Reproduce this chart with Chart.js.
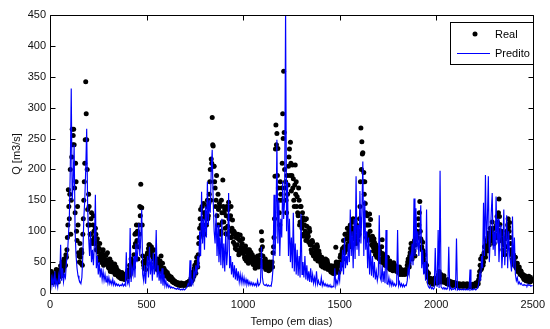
<!DOCTYPE html>
<html>
<head>
<meta charset="utf-8">
<script src="https://cdn.jsdelivr.net/npm/chart.js@4.4.1/dist/chart.umd.min.js"></script>
<style>
  html, body { margin: 0; padding: 0; background: #fff; }
  #c { display: block; }
</style>
</head>
<body>
<canvas id="c" width="550" height="329"></canvas>
<script>
// ---- data ----
const seriesNames = ["Real", "Predito"];
const sampleStep = 5;          // days between samples
const halfStep = 2.5;          // offset of the second set of observed values
const xTicks = [0, 500, 1000, 1500, 2000, 2500];
const yTicks = [0, 50, 100, 150, 200, 250, 300, 350, 400, 450];

// observed flow, days 0, 5, 10, ... 2500
const realVals = [
  25,31,20,27,18,29,23,33,21,26,
  34,44,30,48,40,52,45,58,90,167,
  120,200,150,265,255,240,130,180,85,110,
  60,80,48,65,95,150,210,342,248,135,
  160,110,95,130,80,125,90,105,70,88,
  66,72,52,63,49,70,58,47,61,54,
  48,40,55,38,45,34,42,47,36,33,
  30,33,25,29,23,31,27,22,30,26,
  32,26,38,30,55,40,48,62,95,97,
  85,55,110,140,176,138,60,45,52,38,
  55,65,72,78,62,75,68,55,60,42,
  48,38,45,35,52,60,38,32,40,28,
  32,27,30,23,26,21,24,18,20,16,
  17,14,16,13,15,12,16,14,15,13,
  15,13,17,14,19,15,24,20,30,27,
  45,32,58,42,80,105,135,95,120,145,
  95,125,110,150,125,160,200,217,284,238,
  205,170,150,125,160,110,140,100,130,183,
  115,135,96,140,108,147,100,125,90,118,
  82,98,72,92,78,88,66,94,74,80,
  64,72,55,68,58,70,52,61,66,54,
  50,58,45,55,47,60,42,54,62,99,
  75,52,46,55,40,50,44,47,38,45,
  50,65,90,189,272,258,234,150,110,160,
  170,290,359,200,180,130,160,205,233,244,
  165,207,185,140,207,180,156,125,150,115,
  140,105,122,92,118,85,108,96,82,100,
  78,65,82,60,72,55,68,75,58,63,
  52,44,56,45,50,40,47,53,38,44,
  40,34,42,32,38,35,74,36,43,33,
  50,62,48,72,85,65,95,75,105,90,
  80,110,75,100,120,88,115,80,100,92,
  95,140,267,245,227,195,180,130,90,110,
  85,128,119,78,92,68,82,62,75,66,
  70,55,64,50,86,58,60,45,56,48,
  47,40,52,38,45,36,49,42,44,35,
  40,33,42,32,38,30,37,34,36,31,
  45,55,42,65,80,55,75,68,60,92,
  100,97,110,148,88,75,82,55,62,40,
  45,30,32,20,24,15,20,14,24,17,
  22,16,28,35,18,30,19,22,28,17,
  20,15,22,14,19,13,18,12,17,14,
  16,12,15,11,15,12,14,11,15,12,
  14,11,15,10,14,11,13,12,14,11,
  13,16,12,18,22,35,55,40,55,50,
  75,58,85,68,97,78,105,85,115,90,
  80,105,90,124,102,152,111,85,95,70,
  78,62,90,100,110,107,114,80,65,55,
  62,45,58,40,48,34,42,30,35,27,
  30,22,28,20,26,19,27,18,25,21,
  22
];

// observed flow, days 2.5, 7.5, ... 2497.5
const realValsB = [
  22,35,17,30,24,19,38,27,18,32,
  38,28,50,36,55,44,62,70,110,140,
  160,95,220,240,265,170,210,100,140,65,
  50,58,70,45,120,180,248,290,200,110,
  140,95,120,85,110,100,80,95,82,75,
  58,80,60,55,68,45,62,52,50,65,
  42,52,35,50,40,38,45,30,42,38,
  27,35,28,24,33,26,29,24,27,32,
  36,30,45,35,48,52,42,75,80,110,
  100,75,95,125,138,110,50,40,48,55,
  62,58,78,68,72,65,60,70,48,55,
  42,55,40,50,45,40,48,35,30,36,
  28,33,25,28,22,26,20,22,17,19,
  15,17,14,16,13,15,13,15,12,14,
  13,16,15,18,16,20,28,22,35,40,
  38,50,48,62,90,120,110,140,100,130,
  130,110,140,120,145,180,150,210,240,205,
  180,140,190,110,135,145,95,150,115,140,
  130,105,125,95,135,120,90,140,105,96,
  100,78,90,70,95,62,85,72,68,88,
  70,58,76,52,64,48,70,56,50,62,
  46,56,40,52,58,44,50,48,70,85,
  60,42,52,38,48,42,36,50,40,48,
  42,75,120,233,240,190,170,130,180,150,
  210,250,260,170,150,190,175,220,190,210,
  190,170,150,175,160,140,130,170,110,140,
  115,130,95,110,100,120,88,92,105,78,
  70,85,62,75,66,60,78,52,68,56,
  48,58,42,52,46,55,41,49,45,40,
  36,44,33,40,31,45,50,38,34,48,
  58,45,68,55,75,95,70,88,80,100,
  95,85,105,115,95,105,92,110,85,100,
  120,180,200,225,180,160,145,110,125,95,
  110,100,90,85,75,88,70,78,58,72,
  62,68,54,75,64,48,55,52,44,58,
  42,50,38,48,42,40,45,38,40,42,
  35,38,30,36,34,36,32,30,38,35,
  50,48,60,72,65,70,62,85,78,98,
  90,120,130,100,85,70,68,50,48,35,
  35,25,18,22,17,18,16,20,19,22,
  19,24,30,25,22,25,18,26,20,18,
  17,20,16,18,15,16,14,15,13,16,
  13,14,12,13,11,13,12,13,11,13,
  12,13,11,12,10,12,11,13,10,12,
  14,12,16,15,28,45,38,60,45,65,
  62,78,72,90,80,95,92,100,85,105,
  95,90,110,115,130,124,95,100,88,82,
  68,88,75,95,120,100,90,70,62,50,
  52,58,48,44,38,40,33,36,30,28,
  24,27,22,25,20,24,21,23,19,21
];

// predicted flow, days 0, 5, 10, ... 2500
const predVals = [
  15,30,12,25,10,35,12,20,10,28,
  15,78,20,40,18,30,25,50,60,90,
  120,200,331,150,180,240,100,60,40,28,
  22,18,15,25,60,120,150,200,266,140,
  90,60,100,50,70,45,80,159,40,60,
  30,50,25,40,22,35,20,30,18,28,
  16,25,15,20,14,22,13,18,12,15,
  12,14,11,13,12,15,11,14,12,66,
  15,20,14,105,18,40,30,60,25,80,
  50,70,113,60,90,135,30,20,45,15,
  40,60,25,75,30,55,20,65,30,40,
  102,25,45,20,35,15,40,12,30,12,
  20,10,15,9,12,8,10,8,9,7,
  7,6,8,6,7,5,6,5,7,5,
  6,8,10,15,12,53,10,20,15,35,
  25,45,30,60,40,100,60,164,80,120,
  70,140,90,180,110,150,130,200,232,150,
  100,80,130,60,110,50,90,45,120,40,
  80,35,100,45,70,162,40,60,30,50,
  25,45,22,40,20,35,18,30,17,28,
  16,25,15,22,14,20,13,18,13,17,
  12,16,12,15,11,20,12,14,18,75,
  25,15,13,12,14,11,13,11,12,11,
  20,40,159,60,100,248,80,150,60,120,
  90,180,120,150,460,100,180,60,120,50,
  90,40,130,35,80,30,70,28,60,25,
  128,30,50,25,60,22,45,20,35,18,
  40,17,30,16,25,15,35,14,20,14,
  13,25,12,18,12,15,11,14,10,13,
  10,12,9,11,10,40,12,20,15,30,
  20,50,35,70,30,90,40,60,45,80,
  50,135,60,100,40,120,55,189,70,110,
  60,165,80,130,213,60,150,70,100,40,
  90,30,70,28,60,25,50,22,35,20,
  30,126,25,20,45,18,35,16,102,15,
  14,25,13,20,12,18,12,15,11,14,
  102,12,18,11,15,10,14,10,13,12,
  20,40,30,60,50,80,45,153,60,137,
  70,100,60,90,142,40,70,30,50,20,
  135,15,10,8,12,7,9,6,8,73,
  20,10,102,8,198,10,8,7,9,6,
  8,6,8,75,6,9,5,7,6,8,
  6,88,5,7,5,6,5,6,5,7,
  5,6,5,7,5,38,5,6,5,7,
  6,5,7,8,15,30,20,60,40,146,
  60,191,80,120,189,50,90,130,162,70,
  100,60,156,80,120,50,90,110,40,70,
  135,45,80,126,40,100,60,50,35,124,
  40,90,30,20,25,15,18,14,16,13,
  12,14,12,13,11,14,12,13,11,12,
  12
];

const days = realVals.map((_, i) => i * sampleStep);
const realPts = [];
realVals.forEach((v, i) => {
  realPts.push({ x: days[i], y: v });
  if (i < realValsB.length) realPts.push({ x: days[i] + halfStep, y: realValsB[i] });
});
const predPts = predVals.map((v, i) => ({ x: days[i], y: v }));

const FONT = "'Liberation Sans', Arial, Helvetica, sans-serif";

const framePlugin = {
  id: 'frame',
  afterDraw(chart) {
    const { ctx, chartArea: a, scales: { x, y } } = chart;
    ctx.save();
    ctx.strokeStyle = '#000';
    ctx.lineWidth = 1;
    const L = Math.round(a.left) + 0.5, R = Math.round(a.right) + 0.5;
    const T = Math.round(a.top) + 0.5, B = Math.round(a.bottom) + 0.5;
    ctx.beginPath();
    ctx.rect(L, T, R - L, B - T);
    ctx.stroke();
    const tl = 5;
    ctx.beginPath();
    x.ticks.forEach(t => {
      const px = Math.round(x.getPixelForValue(t.value)) + 0.5;
      ctx.moveTo(px, B); ctx.lineTo(px, B - tl);
      ctx.moveTo(px, T); ctx.lineTo(px, T + tl);
    });
    y.ticks.forEach(t => {
      const py = Math.round(y.getPixelForValue(t.value)) + 0.5;
      ctx.moveTo(L, py); ctx.lineTo(L + tl, py);
      ctx.moveTo(R, py); ctx.lineTo(R - tl, py);
    });
    ctx.stroke();

    // legend box (top-right, inside the axes)
    const ds = chart.data.datasets;
    const bx = 450.5, by = 22.5, bw = 83, bh = 42;
    ctx.fillStyle = '#fff';
    ctx.fillRect(bx, by, bw, bh);
    ctx.strokeStyle = '#000';
    ctx.strokeRect(bx, by, bw, bh);
    ctx.font = '11px ' + FONT;
    ctx.textBaseline = 'middle';
    ctx.textAlign = 'left';
    ctx.fillStyle = '#000';
    ctx.beginPath();
    ctx.arc(475, 34, 2.5, 0, Math.PI * 2);
    ctx.fill();
    ctx.fillText(ds[1].label, 495, 34.5);
    ctx.strokeStyle = '#0000ff';
    ctx.lineWidth = 1;
    ctx.beginPath();
    ctx.moveTo(457, 53.5); ctx.lineTo(490, 53.5);
    ctx.stroke();
    ctx.fillStyle = '#000';
    ctx.fillText(ds[0].label, 495, 53.5);
    ctx.restore();
  }
};

new Chart(document.getElementById('c'), {
  type: 'line',
  data: {
    datasets: [
      {
        label: seriesNames[1],
        data: predPts,
        borderColor: '#0000ff',
        borderWidth: 1.15,
        pointRadius: 0,
        tension: 0,
        fill: false,
        order: 0
      },
      {
        type: 'scatter',
        label: seriesNames[0],
        data: realPts,
        backgroundColor: '#000000',
        borderColor: '#000000',
        borderWidth: 0,
        pointRadius: 2.5,
        showLine: false,
        order: 1
      }
    ]
  },
  options: {
    responsive: false,
    animation: false,
    devicePixelRatio: 1,
    layout: { padding: { left: 0, right: 13, top: 15, bottom: 0 } },
    plugins: { legend: { display: false }, tooltip: { enabled: false } },
    scales: {
      x: {
        type: 'linear',
        min: 0, max: 2500,
        afterFit(s) { s.height = 36; },
        afterBuildTicks(s) { s.ticks = xTicks.map(v => ({ value: v })); },
        grid: { display: false, drawTicks: false },
        border: { display: false },
        ticks: { color: '#111', font: { family: FONT, size: 11 }, padding: 5, maxRotation: 0, callback: v => String(v) },
        title: { display: true, text: 'Tempo (em dias)', color: '#111', font: { family: FONT, size: 11 }, padding: { top: 0, bottom: 0 } }
      },
      y: {
        min: 0, max: 450,
        afterFit(s) { s.width = 50; },
        afterBuildTicks(s) { s.ticks = yTicks.map(v => ({ value: v })); },
        grid: { display: false, drawTicks: false },
        border: { display: false },
        ticks: { color: '#111', font: { family: FONT, size: 11 }, padding: 4, callback: v => String(v) },
        title: { display: true, text: 'Q [m3/s]', color: '#111', font: { family: FONT, size: 11 }, padding: { top: 10, bottom: 0 } }
      }
    }
  },
  plugins: [framePlugin]
});
</script>
</body>
</html>
